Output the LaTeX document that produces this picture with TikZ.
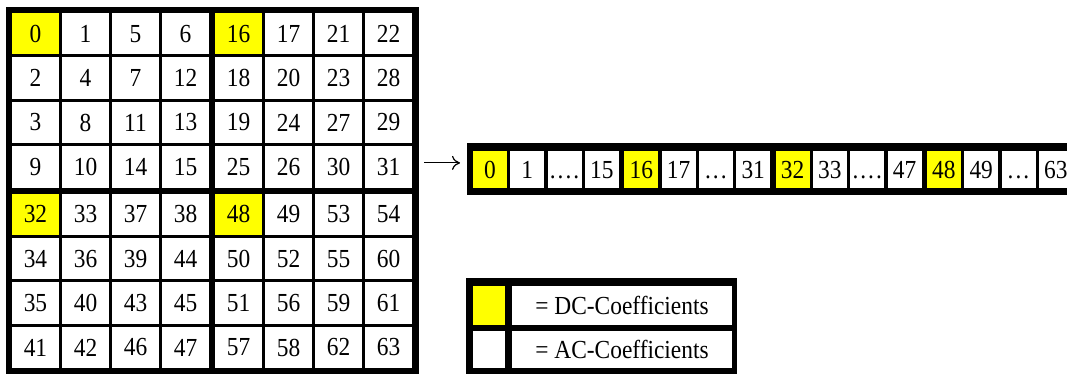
\documentclass[tikz,border=0pt]{standalone}
\usepackage{fontspec}
\setmainfont{Liberation Serif}[FakeStretch=0.9]
\usetikzlibrary{arrows.meta}
\definecolor{dcyellow}{RGB}{255,255,0}

\newcommand{\skipfour}{.\kern2pt.\kern2pt.\kern2pt.}
\newcommand{\skipthree}{.\kern2pt.\kern2pt.}

\tikzset{
  cell/.style={fill=white, inner sep=0pt, minimum width=47pt, minimum height=41.4pt},
  slot/.style={fill=white, inner sep=0pt, minimum width=34pt, minimum height=37pt,
    text height=17.6pt, text depth=0pt},
  frame/.style={fill=black, inner sep=0pt, anchor=north west},
}

\begin{document}
\begin{tikzpicture}[x=1pt, y=-1pt, font=\fontsize{26}{30}\selectfont]
  \clip (0,0) rectangle (1067,374);
  \fill[white] (0,0) rectangle (1067,374);

  % 8x8 block, thicker rules between the 4x4 quarters
  \node[frame, minimum width=413pt, minimum height=373pt] (blk) at (6,7) {};
  \foreach \vals [count=\r from 0] in {{0,1,5,6,16,17,21,22}, {2,4,7,12,18,20,23,28},
      {3,8,11,13,19,24,27,29}, {9,10,14,15,25,26,30,31}, {32,33,37,38,48,49,53,54},
      {34,36,39,44,50,52,55,60}, {35,40,43,45,51,56,59,61}, {41,42,46,47,57,58,62,63}} {
    \foreach \v [count=\c from 0] in \vals {
      \pgfmathsetmacro{\cx}{35.5+50*\c+3*(\c>3)}
      \pgfmathsetmacro{\cy}{33.7+44.4*\r+3*(\r>3)}
      \pgfmathtruncatemacro{\isdc}{mod(\v,16)==0}
      \ifnum\isdc=1 \def\cellfill{dcyellow}\else\def\cellfill{white}\fi
      \node[cell, fill=\cellfill] (c\v) at (\cx,\cy) {\v};
    }
  }

  % scanned sequence
  \node[frame, minimum width=620pt, minimum height=52pt] (vec) at (467,143) {};
  \foreach \t [count=\i from 0] in {0,1,\skipfour,15,16,17,\skipthree,31,32,33,\skipfour,47,48,49,\skipthree,63} {
    \pgfmathsetmacro{\sx}{490+151.3*floor(\i/4)+37.3*mod(\i,4)}
    \pgfmathtruncatemacro{\isdc}{mod(\i,4)==0}
    \ifnum\isdc=1 \def\cellfill{dcyellow}\else\def\cellfill{white}\fi
    \node[slot, fill=\cellfill] (s\i) at (\sx,169.5) {\t};
  }

  \coordinate (tail) at ([yshift=4pt]c31.east);
  \draw[-{To[length=8pt,width=14pt]}, line width=1.2pt, shorten <=5pt, shorten >=7pt]
    (tail -| blk.east) -- (tail -| vec.west);

  % key
  \node[frame, minimum width=271pt, minimum height=100pt] (key) at (466,278) {};
  \node[cell, fill=dcyellow, minimum width=32pt, minimum height=39pt] (dckey) at (489,305.5) {};
  \node[cell, minimum width=220pt, minimum height=39pt] (dctext) at (622,305.5) {= DC-Coefficients};
  \node[cell, minimum width=32pt, minimum height=37pt] (ackey) at (489,349.5) {};
  \node[cell, minimum width=220pt, minimum height=37pt] (actext) at (622,349.5) {= AC-Coefficients};
\end{tikzpicture}
\end{document}
